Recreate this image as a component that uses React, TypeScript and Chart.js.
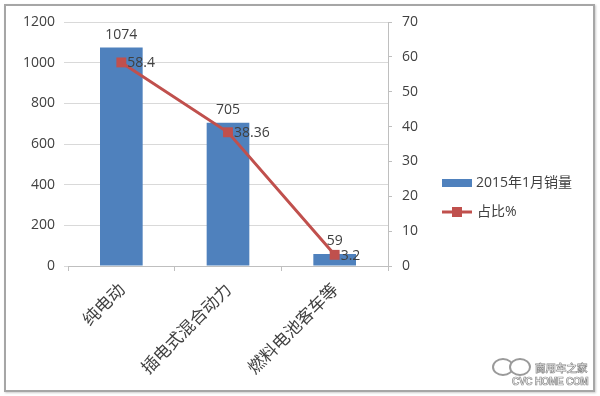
import React, { useEffect, useRef } from "react";
import { Chart, registerables } from "chart.js";

Chart.register(...registerables);

const categories = ["纯电动", "插电式混合动力", "燃料电池客车等"];
const salesValues = [1074, 705, 59];
const shareValues = [58.4, 38.36, 3.2];
const shareLabels = ["58.4", "38.36", "3.2"];
const leftTicks = [0, 200, 400, 600, 800, 1000, 1200];
const rightTicks = [0, 10, 20, 30, 40, 50, 60, 70];
const seriesNames = ["2015年1月销量", "占比%"];

const BLUE = "#4F81BD";
const RED = "#C0504D";
const TEXT = "#404040";
const FONT = "'Open Sans', 'Noto Sans CJK SC', sans-serif";

const labelPlugin = {
  id: "labelsAndLegend",
  afterDatasetsDraw(chart: any) {
    const ctx = chart.ctx;
    ctx.save();
    ctx.fillStyle = TEXT;
    ctx.font = `14px ${FONT}`;
    const barMeta = chart.getDatasetMeta(0);
    barMeta.data.forEach((el: any, i: number) => {
      ctx.textAlign = "center";
      ctx.textBaseline = "bottom";
      ctx.fillText(String(salesValues[i]), el.x, el.y - 6);
    });
    const lineMeta = chart.getDatasetMeta(1);
    lineMeta.data.forEach((el: any, i: number) => {
      ctx.textAlign = "left";
      ctx.textBaseline = "middle";
      ctx.fillText(shareLabels[i], el.x + 6, el.y + 1);
    });
    ctx.restore();
  },
  afterDraw(chart: any) {
    const ctx = chart.ctx;
    ctx.save();
    const lx = 442;
    ctx.fillStyle = BLUE;
    ctx.fillRect(lx, 179, 30, 8);
    ctx.fillStyle = TEXT;
    ctx.font = `14px ${FONT}`;
    ctx.textAlign = "left";
    ctx.textBaseline = "middle";
    ctx.fillText(seriesNames[0], lx + 34, 183);
    ctx.strokeStyle = RED;
    ctx.lineWidth = 3;
    ctx.beginPath();
    ctx.moveTo(lx, 212);
    ctx.lineTo(lx + 30, 212);
    ctx.stroke();
    ctx.fillStyle = RED;
    ctx.fillRect(lx + 10, 207, 10, 10);
    ctx.fillStyle = TEXT;
    ctx.fillText(seriesNames[1], lx + 35, 212);
    ctx.restore();
  },
};

export default function App() {
  const ref = useRef<HTMLCanvasElement>(null);
  useEffect(() => {
    if (!ref.current) return;
    const chart = new Chart(ref.current, {
      type: "bar",
      data: {
        labels: categories,
        datasets: [
          {
            type: "bar",
            label: seriesNames[0],
            data: salesValues,
            backgroundColor: BLUE,
            yAxisID: "y",
            barPercentage: 0.4,
            categoryPercentage: 1,
            order: 1,
          },
          {
            type: "line",
            label: seriesNames[1],
            data: shareValues,
            borderColor: RED,
            backgroundColor: RED,
            borderWidth: 3,
            pointStyle: "rect",
            pointRadius: 7,
            pointBackgroundColor: RED,
            pointBorderColor: RED,
            pointBorderWidth: 0,
            yAxisID: "y1",
            order: 0,
          } as any,
        ],
      },
      plugins: [labelPlugin],
      options: {
        animation: false,
        responsive: false,
        layout: { padding: { top: 22, left: 0, right: 0, bottom: 0 } },
        plugins: {
          legend: { display: false },
          tooltip: { enabled: false },
        },
        scales: {
          x: {
            afterFit: (s: any) => {
              s.height = 130;
            },
            grid: {
              display: true,
              offset: true,
              drawOnChartArea: false,
              drawTicks: true,
              tickLength: 5,
              color: "#bfbfbf",
            },
            border: { display: true, color: "#bfbfbf" },
            ticks: {
              minRotation: 45,
              maxRotation: 45,
              color: TEXT,
              padding: 8,
              font: { size: 17, family: "'Noto Sans CJK SC', sans-serif" },
            },
          },
          y: {
            position: "left",
            min: 0,
            max: 1200,
            afterFit: (s: any) => {
              s.width = 68;
            },
            afterBuildTicks: (s: any) => {
              s.ticks = leftTicks.map((v) => ({ value: v }));
            },
            grid: { color: "#d9d9d9", tickLength: 4, lineWidth: 1 },
            border: { display: false },
            ticks: {
              color: TEXT,
              padding: 9,
              font: { size: 14, family: FONT },
              callback: (v: any) => String(v),
            },
          },
          y1: {
            position: "right",
            min: 0,
            max: 70,
            afterFit: (s: any) => {
              s.width = 212;
            },
            afterBuildTicks: (s: any) => {
              s.ticks = rightTicks.map((v) => ({ value: v }));
            },
            grid: {
              drawOnChartArea: false,
              drawTicks: true,
              tickLength: 4,
              color: "#bfbfbf",
            },
            border: { display: true, color: "#bfbfbf" },
            ticks: {
              color: TEXT,
              padding: 10,
              font: { size: 14, family: FONT },
              callback: (v: any) => String(v),
            },
          },
        },
      },
    });
    return () => chart.destroy();
  }, []);

  const wm = {
    position: "absolute" as const,
    color: "#fff",
    WebkitTextStroke: "0.7px #8a8a8a",
    fontWeight: 700,
    whiteSpace: "nowrap" as const,
  };

  return (
    <div
      style={{
        position: "absolute",
        left: 0,
        top: 0,
        width: 600,
        height: 396,
        background: "#fff",
      }}
    >
      <div
        style={{
          position: "absolute",
          left: 4,
          top: 4,
          width: 587,
          height: 384,
          border: "2px solid #a6a6a6",
          boxShadow: "1px 1px 2px #ccc",
        }}
      />
      <canvas
        ref={ref}
        width={600}
        height={396}
        style={{ position: "absolute", left: 0, top: 0, width: 600, height: 396 }}
      />
      <div
        style={{
          position: "absolute",
          left: 492,
          top: 358,
          width: 18,
          height: 14,
          border: "2.5px solid #9a9a9a",
          borderRadius: "50%",
          background: "#fff",
        }}
      />
      <div
        style={{
          position: "absolute",
          left: 509,
          top: 358,
          width: 18,
          height: 14,
          border: "2.5px solid #9a9a9a",
          borderRadius: "50%",
          background: "#fff",
        }}
      />
      <div
        style={{
          ...wm,
          left: 535,
          top: 362,
          fontFamily: "'Noto Sans CJK SC', sans-serif",
          fontSize: 10.5,
          lineHeight: "12px",
        }}
      >
        商用车之家
      </div>
      <div
        style={{
          ...wm,
          left: 512,
          top: 376,
          fontFamily: "'Liberation Sans', sans-serif",
          fontSize: 10,
          lineHeight: "11px",
          letterSpacing: "-0.3px",
        }}
      >
        CVC HOME COM
      </div>
    </div>
  );
}
